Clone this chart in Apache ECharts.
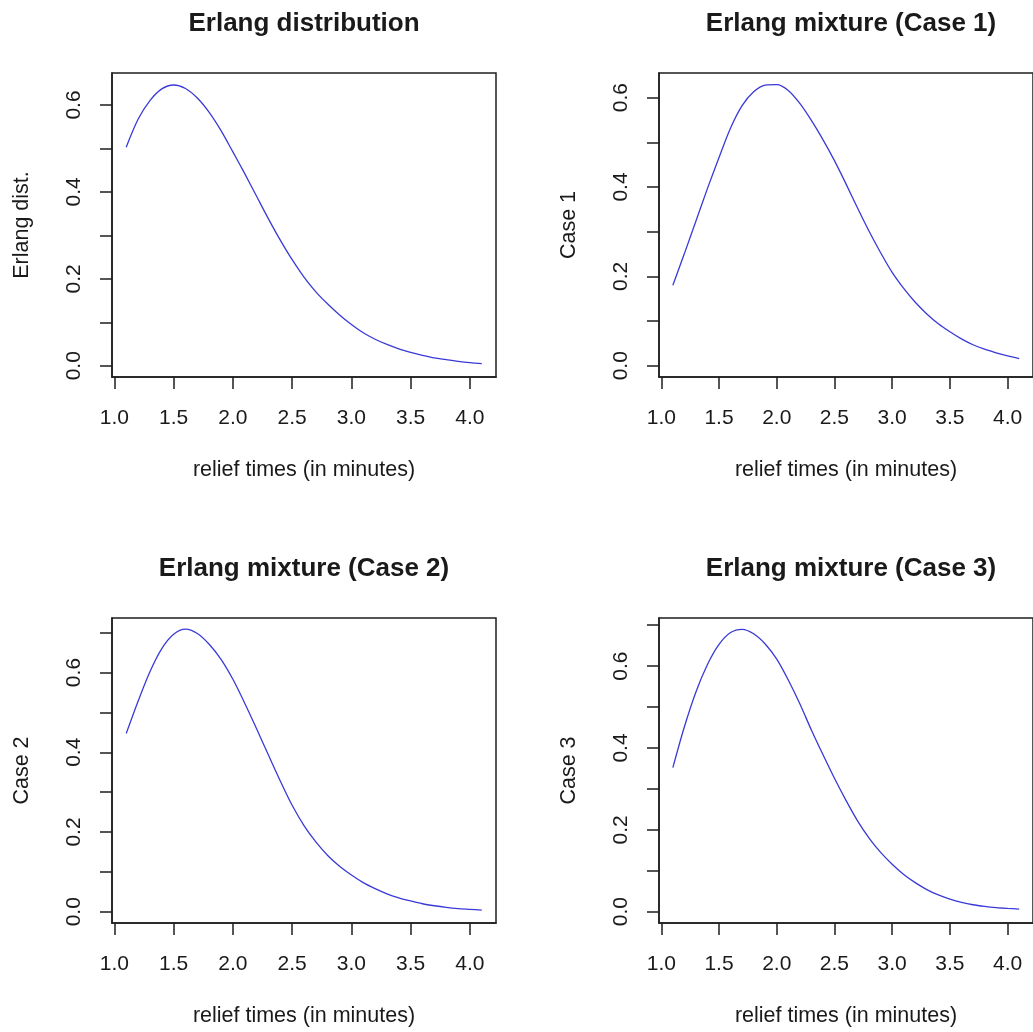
<!DOCTYPE html>
<html>
<head>
<meta charset="utf-8">
<script src="https://cdn.jsdelivr.net/npm/echarts@6/dist/echarts.min.js"></script>
<style>
  html, body { margin: 0; padding: 0; background: #ffffff; }
  #chart { width: 1033px; height: 1032px; }
</style>
</head>
<body>
<div id="chart"></div>
<script>
// ---- data ----
const reliefTimes = [1.1, 1.2, 1.3, 1.4, 1.5, 1.6, 1.7, 1.8, 1.9, 2.0,
                     2.1, 2.2, 2.3, 2.4, 2.5, 2.6, 2.7, 2.8, 2.9, 3.0,
                     3.1, 3.2, 3.3, 3.4, 3.5, 3.6, 3.7, 3.8, 3.9, 4.0, 4.1];

const erlangDist = [0.503, 0.567, 0.610, 0.637, 0.646, 0.638, 0.616, 0.583, 0.541, 0.492,
                    0.442, 0.390, 0.338, 0.289, 0.244, 0.204, 0.170, 0.142, 0.117, 0.095,
                    0.076, 0.061, 0.049, 0.039, 0.031, 0.024, 0.018, 0.014, 0.010, 0.007, 0.005];

const case1 = [0.180, 0.251, 0.324, 0.397, 0.466, 0.532, 0.582, 0.613, 0.628, 0.629,
               0.616, 0.587, 0.549, 0.506, 0.459, 0.407, 0.353, 0.301, 0.253, 0.209,
               0.173, 0.142, 0.116, 0.094, 0.076, 0.060, 0.047, 0.037, 0.029, 0.022, 0.016];

const case2 = [0.447, 0.528, 0.602, 0.660, 0.696, 0.709, 0.698, 0.671, 0.633, 0.583,
               0.523, 0.459, 0.393, 0.328, 0.267, 0.216, 0.175, 0.141, 0.114, 0.092,
               0.073, 0.058, 0.045, 0.035, 0.027, 0.020, 0.015, 0.011, 0.008, 0.006, 0.004];

const case3 = [0.352, 0.452, 0.537, 0.604, 0.653, 0.682, 0.690, 0.679, 0.654, 0.617,
               0.566, 0.508, 0.444, 0.384, 0.326, 0.272, 0.222, 0.180, 0.145, 0.116,
               0.091, 0.071, 0.054, 0.041, 0.031, 0.023, 0.017, 0.013, 0.010, 0.008, 0.0065];

const panelTitles = ['Erlang distribution', 'Erlang mixture (Case 1)', 'Erlang mixture (Case 2)', 'Erlang mixture (Case 3)'];
const yNames = ['Erlang dist.', 'Case 1', 'Case 2', 'Case 3'];
const xName = 'relief times (in minutes)';
const xTickValues = [1.0, 1.5, 2.0, 2.5, 3.0, 3.5, 4.0];
const yLabelValues = [0.0, 0.2, 0.4, 0.6];
const yTicksShort = [0.0, 0.1, 0.2, 0.3, 0.4, 0.5, 0.6];
const yTicksLong = [0.0, 0.1, 0.2, 0.3, 0.4, 0.5, 0.6, 0.7];

// ---- layout / styling ----
const FONT = 'Liberation Sans, Arial, Helvetica, sans-serif';
const INK = '#1a1a1a';
const FRAME = '#1e1e1e';
const LINE = '#3a3ad8';

const panels = [
  { left: 112, top: 73,  h: 304, yMin: -0.0259, yMax: 0.6736, yTicks: yTicksShort, series: erlangDist },
  { left: 659, top: 73,  h: 304, yMin: -0.0252, yMax: 0.6552, yTicks: yTicksShort, series: case1 },
  { left: 112, top: 618, h: 305, yMin: -0.0283, yMax: 0.7368, yTicks: yTicksLong,  series: case2 },
  { left: 659, top: 618, h: 305, yMin: -0.0276, yMax: 0.7176, yTicks: yTicksLong,  series: case3 }
];
const W = 384;

const option = {
  backgroundColor: '#ffffff',
  animation: false,
  textStyle: { fontFamily: FONT, color: INK },
  title: panels.map((p, i) => ({
    text: panelTitles[i],
    left: p.left + W / 2,
    top: p.top - 62,
    padding: 0,
    textAlign: 'center',
    textStyle: { fontFamily: FONT, fontSize: 26, fontWeight: 'bold', color: INK }
  })),
  grid: panels.map(p => ({
    left: p.left, top: p.top, width: W, height: p.h,
    show: true, borderColor: FRAME, borderWidth: 1.5, backgroundColor: 'transparent',
    containLabel: false
  })),
  xAxis: panels.map((p, i) => ({
    type: 'value', gridIndex: i, min: 0.98, max: 4.22,
    name: xName, nameLocation: 'middle', nameGap: 93,
    nameTextStyle: { fontFamily: FONT, fontSize: 21.5, color: INK, verticalAlign: 'middle' },
    axisLine: { show: true, onZero: false, lineStyle: { color: FRAME, width: 1.5 } },
    axisTick: { show: true, inside: false, length: 12, customValues: xTickValues, lineStyle: { color: FRAME, width: 1.5 } },
    axisLabel: { show: true, customValues: xTickValues, margin: 41, fontSize: 21, fontFamily: FONT, color: INK,
                 verticalAlign: 'middle', align: 'center', formatter: v => v.toFixed(1),
                 showMinLabel: true, showMaxLabel: true, hideOverlap: false },
    splitLine: { show: false }
  })),
  yAxis: panels.map((p, i) => ({
    type: 'value', gridIndex: i, min: p.yMin, max: p.yMax,
    name: yNames[i], nameLocation: 'middle', nameGap: 89.5, nameRotate: 90,
    nameTextStyle: { fontFamily: FONT, fontSize: 21.5, color: INK, verticalAlign: 'middle', align: 'center' },
    axisLine: { show: true, onZero: false, lineStyle: { color: FRAME, width: 1.5 } },
    axisTick: { show: true, inside: false, length: 12, customValues: p.yTicks, lineStyle: { color: FRAME, width: 1.5 } },
    axisLabel: { show: true, customValues: yLabelValues, rotate: 90, margin: 38, fontSize: 21, fontFamily: FONT, color: INK,
                 align: 'center', verticalAlign: 'middle', formatter: v => v.toFixed(1),
                 showMinLabel: true, showMaxLabel: true, hideOverlap: false },
    splitLine: { show: false }
  })),
  series: panels.map((p, i) => ({
    type: 'line', xAxisIndex: i, yAxisIndex: i,
    data: reliefTimes.map((x, k) => [x, p.series[k]]),
    showSymbol: false, smooth: 0.3,
    lineStyle: { color: LINE, width: 1.3 },
    silent: true
  }))
};

const chart = echarts.init(document.getElementById('chart'), null, { renderer: 'canvas' });
chart.setOption(option);
</script>
</body>
</html>
